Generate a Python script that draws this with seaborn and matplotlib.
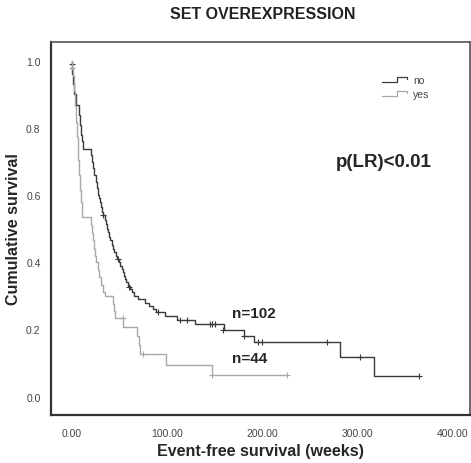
import numpy as np
import pandas as pd
import matplotlib
matplotlib.use("Agg")
import matplotlib.pyplot as plt
from matplotlib.lines import Line2D
from matplotlib.legend_handler import HandlerBase
import seaborn as sns

# ---- data ----
groups = ["no", "yes"]
n_labels = ["n=102", "n=44"]

no_time = [0, 1, 2, 3, 4.5, 7.5, 9, 10, 11, 12, 20, 21.5, 23, 24, 25.5, 26.5, 27.5,
           29, 30, 31, 32, 33, 35, 36, 37.5, 38.5, 39.5, 40.5, 42, 43.5, 45, 46.5, 47.5,
           50, 51, 52.5, 53.5, 55, 56, 57.5, 59, 61, 63, 66, 70, 77, 81, 85, 89, 98,
           111, 129, 159.5, 180.5, 191, 282, 317, 364]
no_surv = [1.0, 0.96, 0.93, 0.90, 0.867, 0.84, 0.81, 0.78, 0.76, 0.738, 0.72, 0.70, 0.68,
           0.66, 0.64, 0.62, 0.60, 0.59, 0.58, 0.565, 0.55, 0.54, 0.525, 0.515, 0.50, 0.49,
           0.475, 0.465, 0.45, 0.44, 0.43, 0.42, 0.41, 0.40, 0.39, 0.38, 0.37, 0.36, 0.35,
           0.34, 0.33, 0.32, 0.311, 0.30, 0.291, 0.28, 0.27, 0.261, 0.251, 0.241, 0.229,
           0.217, 0.197, 0.179, 0.162, 0.119, 0.06, 0.06]
no_cens_time = [1, 33.5, 49, 60.5, 91, 114, 121, 145, 147, 150, 159, 181, 196, 200, 268, 303, 364]
no_cens_surv = [0.99, 0.54, 0.41, 0.326, 0.251, 0.229, 0.229, 0.217, 0.217, 0.217, 0.197,
                0.179, 0.162, 0.162, 0.162, 0.119, 0.06]

yes_time = [0, 1, 1.5, 2.2, 2.8, 3.3, 3.8, 4.3, 4.8, 5.3, 5.8, 6.3, 6.8, 7.3, 7.8, 8.3, 8.8,
            9.3, 9.8, 11.5, 20, 21.5, 22.5, 24, 25, 26, 27.5, 29, 31, 33, 35, 44, 45, 46,
            54, 69, 70.5, 72, 99, 147, 226]
yes_surv = [1.0, 0.977, 0.955, 0.932, 0.909, 0.886, 0.864, 0.841, 0.818, 0.795, 0.773, 0.75,
            0.727, 0.705, 0.682, 0.659, 0.636, 0.614, 0.58, 0.534, 0.51, 0.488, 0.465, 0.44,
            0.42, 0.40, 0.377, 0.355, 0.332, 0.31, 0.30, 0.277, 0.254, 0.233, 0.207, 0.18,
            0.155, 0.127, 0.095, 0.065, 0.065]
yes_cens_time = [1, 54, 75, 147, 226]
yes_cens_surv = [0.98, 0.233, 0.127, 0.065, 0.065]

x_ticks = [0, 100, 200, 300, 400]
x_ticklabels = ["0.00", "100.00", "200.00", "300.00", "400.00"]
y_ticks = [0.0, 0.2, 0.4, 0.6, 0.8, 1.0]
y_ticklabels = ["0.0", "0.2", "0.4", "0.6", "0.8", "1.0"]

# ---- build tables ----
curves = pd.concat([
    pd.DataFrame({"time": no_time, "surv": no_surv, "group": "no"}),
    pd.DataFrame({"time": yes_time, "surv": yes_surv, "group": "yes"}),
], ignore_index=True)
cens = pd.concat([
    pd.DataFrame({"time": no_cens_time, "surv": no_cens_surv, "group": "no"}),
    pd.DataFrame({"time": yes_cens_time, "surv": yes_cens_surv, "group": "yes"}),
], ignore_index=True)

palette = {"no": "#3a3a3a", "yes": "#a8a8a8"}

sns.set_style("white")
plt.rcParams["font.family"] = ["Liberation Sans", "DejaVu Sans"]

fig = plt.figure(figsize=(4.71, 4.64), dpi=100)
ax = fig.add_axes([0.1083, 0.1034, 0.8897, 0.8046])

for g in groups:
    sns.lineplot(data=curves[curves.group == g], x="time", y="surv", color=palette[g],
                 drawstyle="steps-post", estimator=None, sort=False, lw=1.0, ax=ax,
                 legend=False)
    sns.scatterplot(data=cens[cens.group == g], x="time", y="surv", color=palette[g],
                    marker="+", s=20, linewidth=0.8, ax=ax, legend=False)

ax.set_xlim(-21.5, 418)
ax.set_ylim(-0.055, 1.057)
ax.set_xticks(x_ticks)
ax.set_xticklabels(x_ticklabels)
ax.set_yticks(y_ticks)
ax.set_yticklabels(y_ticklabels)
ax.tick_params(axis="both", direction="out", length=5, width=1.3, color="#333333",
               labelsize=7.5, labelcolor="#444444", pad=2.5)
ax.tick_params(axis="x", pad=4)
for side in ["left", "bottom"]:
    ax.spines[side].set_linewidth(1.6)
    ax.spines[side].set_color("#333333")
for side in ["top", "right"]:
    ax.spines[side].set_linewidth(1.2)
    ax.spines[side].set_color("#555555")

ax.set_xlabel("Event-free survival (weeks)", fontsize=11.5, fontweight="bold", labelpad=4)
ax.set_ylabel("Cumulative survival", fontsize=11.5, fontweight="bold", labelpad=4)
fig.suptitle("SET OVEREXPRESSION", x=0.558, y=0.985, fontsize=11.5, fontweight="bold",
             color="#222222")

# n labels and p-value
ax.text(168, 0.25, n_labels[0], fontsize=11, fontweight="bold", va="center")
ax.text(168, 0.115, n_labels[1], fontsize=11, fontweight="bold", va="center")
ax.text(0.795, 0.678, "p(LR)<0.01", transform=ax.transAxes, fontsize=13.5,
        fontweight="bold", ha="center", va="center")


class StepHandler(HandlerBase):
    def create_artists(self, legend, orig_handle, xdescent, ydescent, width, height,
                       fontsize, trans):
        x0, x1 = -xdescent, -xdescent + width
        y0, y1 = -ydescent + 0.15 * height, -ydescent + 0.85 * height
        xm = x0 + 0.55 * width
        line = Line2D([x0, xm, xm, x1 - 1, x1 - 1], [y0, y0, y1, y1, y0 + 0.45 * height],
                      color=orig_handle.get_color(), lw=0.9, transform=trans)
        return [line]


handles = [Line2D([], [], color=palette[g]) for g in groups]
leg = ax.legend(handles, groups, loc="upper right", bbox_to_anchor=(0.925, 0.935),
                frameon=False, fontsize=7.5, handlelength=2.6, handletextpad=0.4,
                labelspacing=0.35, handler_map={Line2D: StepHandler()})
for t in leg.get_texts():
    t.set_color("#444444")

fig.savefig("out.png", dpi=100)
